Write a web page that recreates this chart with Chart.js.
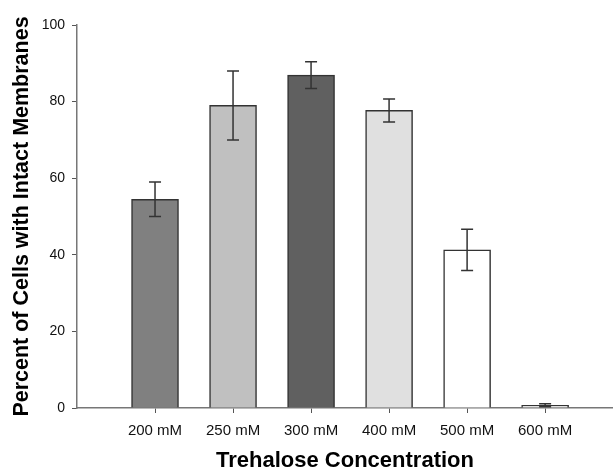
<!DOCTYPE html>
<html>
<head>
<meta charset="utf-8">
<script src="https://cdn.jsdelivr.net/npm/chart.js@4/dist/chart.umd.min.js"></script>
<style>
    html, body { margin: 0; padding: 0; background: #fff; }
    #wrap { width: 613px; height: 470px; }
</style>
</head>
<body>
<div id="wrap"><canvas id="chart"></canvas></div>
<script>
const categories = ["200 mM", "250 mM", "300 mM", "400 mM", "500 mM", "600 mM"];
const positions = [1, 2, 3, 4, 5, 6];
const percentIntact = [54.5, 79.0, 86.9, 77.7, 41.3, 0.7];
const errors = [4.5, 9.0, 3.5, 3.0, 5.4, 0.4];
const barColors = ["#808080", "#c0c0c0", "#606060", "#e0e0e0", "#ffffff", "#e0e0e0"];
const yTicks = [0, 20, 40, 60, 80, 100];

const FONT = "'Liberation Sans', Arial, sans-serif";

// error bars drawn on top of each bar, from the y scale
const errorBars = {
    id: "errorBars",
    afterDatasetsDraw(chart) {
        const ctx = chart.ctx;
        const y = chart.scales.y;
        const meta = chart.getDatasetMeta(0);
        ctx.save();
        ctx.strokeStyle = "#333";
        ctx.lineWidth = 1.5;
        meta.data.forEach((bar, i) => {
            const top = y.getPixelForValue(percentIntact[i] + errors[i]);
            const bot = y.getPixelForValue(percentIntact[i] - errors[i]);
            const cap = 6;
            ctx.beginPath();
            ctx.moveTo(bar.x, top); ctx.lineTo(bar.x, bot);
            ctx.moveTo(bar.x - cap, top); ctx.lineTo(bar.x + cap, top);
            ctx.moveTo(bar.x - cap, bot); ctx.lineTo(bar.x + cap, bot);
            ctx.stroke();
        });
        ctx.restore();
    }
};

new Chart(document.getElementById("chart").getContext("2d"), {
    type: "bar",
    data: {
        datasets: [{
            data: positions.map((p, i) => ({ x: p, y: percentIntact[i] })),
            backgroundColor: barColors,
            borderColor: "#333",
            borderWidth: 1.5,
            barThickness: 47
        }]
    },
    options: {
        responsive: true,
        maintainAspectRatio: false,
        animation: false,
        layout: { padding: { top: 25, right: 0, bottom: 0, left: 0 } },
        plugins: { legend: { display: false }, tooltip: { enabled: false } },
        scales: {
            x: {
                type: "linear",
                min: 0,
                max: 6.87,
                offset: false,
                afterBuildTicks: s => { s.ticks = positions.map(v => ({ value: v })); },
                afterFit: s => { s.height = 62; },
                ticks: {
                    callback: v => categories[v - 1] || "",
                    color: "#111",
                    font: { family: FONT, size: 15 },
                    padding: 9,
                    maxRotation: 0
                },
                grid: { display: true, offset: false, drawOnChartArea: false, tickLength: 5, color: "#555", lineWidth: 1 },
                border: { color: "#777", width: 1.5 },
                title: {
                    display: true,
                    text: "Trehalose Concentration",
                    color: "#000",
                    font: { family: FONT, size: 22, weight: "bold" },
                    padding: { top: 0, bottom: -4 }
                }
            },
            y: {
                min: 0,
                max: 100,
                afterBuildTicks: s => { s.ticks = yTicks.map(v => ({ value: v })); },
                afterFit: s => { s.width = 77; },
                ticks: {
                    color: "#111",
                    font: { family: FONT, size: 14 },
                    padding: 7
                },
                grid: { display: true, drawOnChartArea: false, tickLength: 5, color: "#555", lineWidth: 1 },
                border: { color: "#777", width: 1.5 },
                title: {
                    display: true,
                    text: "Percent of Cells with Intact Membranes",
                    color: "#000",
                    font: { family: FONT, size: 21.5, weight: "bold" },
                    padding: { top: 9, bottom: 0 }
                }
            }
        }
    },
    plugins: [errorBars]
});
</script>
</body>
</html>
